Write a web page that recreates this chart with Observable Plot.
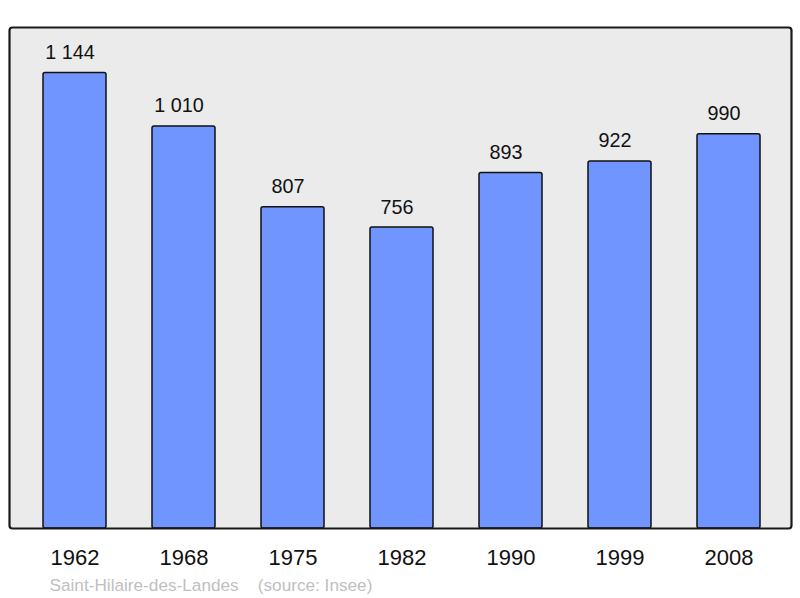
<!DOCTYPE html>
<html>
<head>
<meta charset="utf-8">
<script src="https://cdn.jsdelivr.net/npm/d3@7"></script>
<script src="https://cdn.jsdelivr.net/npm/@observablehq/plot@0.6"></script>
<style>
  html, body { margin: 0; padding: 0; background: #fff; }
  svg { font-family: "Liberation Sans", Arial, sans-serif; }
</style>
</head>
<body>
<div id="chart"></div>
<script>
const years = ["1962", "1968", "1975", "1982", "1990", "1999", "2008"];
const population = [1144, 1010, 807, 756, 893, 922, 990];
const caption = "Saint-Hilaire-des-Landes\u00a0\u00a0\u00a0\u00a0(source: Insee)";

const fmt = d3.formatLocale({decimal: ",", thousands: "\u00a0", grouping: [3]}).format(",d");
const data = years.map((y, i) => ({year: y, pop: population[i], label: fmt(population[i])}));

const chart = Plot.plot({
  width: 800,
  height: 598,
  marginLeft: 9,
  marginRight: 9,
  marginTop: 27,
  marginBottom: 70,
  x: {domain: years, range: [18.25, 784.75], paddingInner: 0.424, paddingOuter: 0.212, label: null},
  y: {domain: [0, 1258.4], axis: null},
  marks: [
    Plot.frame({fill: "#ebebeb", stroke: "none"}),
    Plot.barY(data, {x: "year", y: "pop", fill: "#7195ff", stroke: "#111", strokeWidth: 1.5, rx: 2}),
    Plot.frame({stroke: "#1a1a1a", strokeWidth: 2.2, rx: 3}),
    Plot.text(data, {x: "year", y: "pop", text: "label", lineAnchor: "bottom", dy: -14, dx: -5, fontSize: 19.8, fill: "#111"}),
    Plot.axisX({tickSize: 0, tickPadding: 21, fontSize: 22, color: "#111"}),
    Plot.text([caption], {frameAnchor: "bottom-left", text: d => d, dx: 40, dy: 62.5, lineAnchor: "bottom", fontSize: 17.2, fill: "#c0c0c0"})
  ]
});
document.getElementById("chart").appendChild(chart);
</script>
</body>
</html>
